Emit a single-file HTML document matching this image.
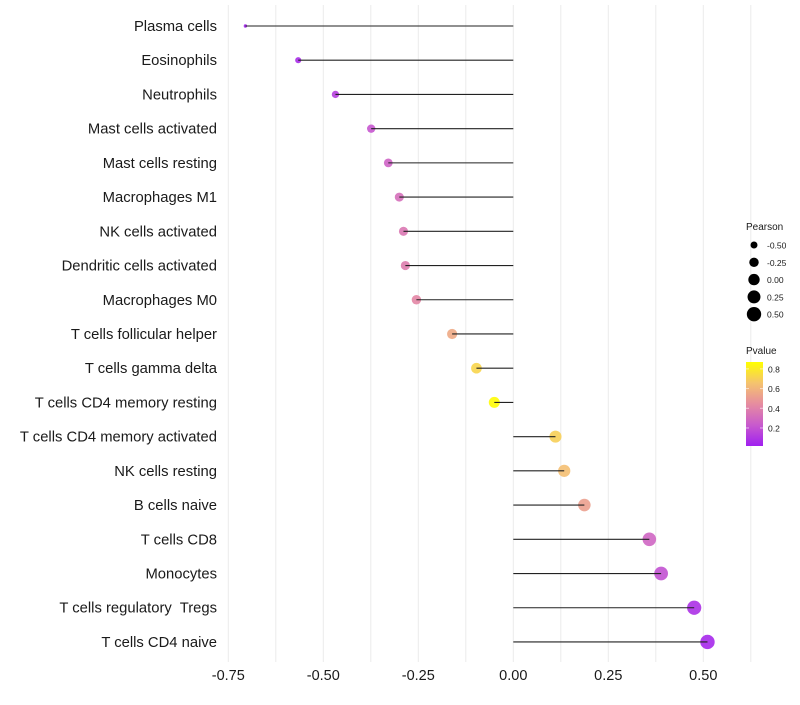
<!DOCTYPE html>
<html><head><meta charset="utf-8"><style>
body{margin:0;background:#fff;font-family:"Liberation Sans",sans-serif}
</style></head><body>
<svg id="chart" width="800" height="700" xmlns="http://www.w3.org/2000/svg">
<g id="grid"></g>
<g id="marks"></g>
<g id="ylab"></g>
<g id="xlab"></g>
<g id="legend"></g>
</svg>
<script>
const categories=["Plasma cells","Eosinophils","Neutrophils","Mast cells activated","Mast cells resting","Macrophages M1","NK cells activated","Dendritic cells activated","Macrophages M0","T cells follicular helper","T cells gamma delta","T cells CD4 memory resting","T cells CD4 memory activated","NK cells resting","B cells naive","T cells CD8","Monocytes","T cells regulatory  Tregs","T cells CD4 naive"];
const pearson=[-0.705,-0.566,-0.468,-0.374,-0.329,-0.300,-0.289,-0.284,-0.255,-0.161,-0.097,-0.050,0.111,0.134,0.187,0.358,0.389,0.476,0.511];
const pvalue=[0.03,0.06,0.13,0.22,0.27,0.32,0.36,0.38,0.42,0.56,0.72,0.86,0.70,0.64,0.52,0.28,0.20,0.08,0.05];
const xTicks=[-0.75,-0.5,-0.25,0,0.25,0.5];
const xTickLabels=["-0.75","-0.50","-0.25","0.00","0.25","0.50"];
const sizeLegend=[-0.5,-0.25,0,0.25,0.5];
const sizeLegendLabels=["-0.50","-0.25","0.00","0.25","0.50"];
const pTicks=[0.2,0.4,0.6,0.8];

const NS="http://www.w3.org/2000/svg";
const x=v=>513.3+v*380;
const y=i=>26+i*34.22;
const pMinV=Math.min(...pearson),pMaxV=Math.max(...pearson);
const rad=v=>{let t=(v-pMinV)/(pMaxV-pMinV);t=Math.max(0,Math.min(1,t));return 0.6+1.1*Math.sqrt(1+35*t);};
const pMin=0.017,pMax=0.87;
const stops=[[0,[160,32,240]],[0.25,[200,90,205]],[0.5,[230,140,160]],[0.75,[245,195,110]],[1,[255,255,0]]];
function col(p){let t=(p-pMin)/(pMax-pMin);t=Math.max(0,Math.min(1,t));
 for(let k=1;k<stops.length;k++){if(t<=stops[k][0]){const a=stops[k-1],b=stops[k];const f=(t-a[0])/(b[0]-a[0]);
 return "rgb("+a[1].map((c,j)=>Math.round(c+(b[1][j]-c)*f)).join(",")+")";}}return "rgb(255,255,0)";}
function el(tag,attrs,parent){const e=document.createElementNS(NS,tag);for(const k in attrs)e.setAttribute(k,attrs[k]);parent.appendChild(e);return e;}
const G=document.getElementById("grid"),M=document.getElementById("marks"),YL=document.getElementById("ylab"),XL=document.getElementById("xlab"),L=document.getElementById("legend");
for(let v=-0.75;v<=0.626;v+=0.125){const g=el("line",{x1:x(v),x2:x(v),y1:5,y2:662,stroke:"#ebebeb","stroke-width":1},G);

}
xTicks.forEach((v,i)=>{const t=el("text",{x:x(v),y:680,"text-anchor":"middle","font-size":14.5,fill:"#1a1a1a"},XL);t.textContent=xTickLabels[i];

});
categories.forEach((c,i)=>{
 const t=el("text",{x:217,y:y(i)+5,"text-anchor":"end","font-size":14.8,fill:"#1a1a1a","xml:space":"preserve"},YL);t.textContent=c;
 t.style.whiteSpace="pre";
 
 
 const d=el("circle",{cx:x(pearson[i]),cy:y(i),r:rad(pearson[i]),fill:col(pvalue[i]),"fill-opacity":0.9},M);
 
 
 const s=el("line",{x1:x(0),x2:x(pearson[i]),y1:y(i),y2:y(i),stroke:"#222","stroke-width":1.1},M);
 
 
});
let t=el("text",{x:746,y:230,"font-size":10,fill:"#1a1a1a"},L);t.textContent="Pearson";


sizeLegend.forEach((v,i)=>{const yy=245+i*17.3;
 const c=el("circle",{cx:754,cy:yy,r:rad(v),fill:"#000"},L);
 
 
 const tt=el("text",{x:767,y:yy+3.5,"font-size":8.5,fill:"#1a1a1a"},L);tt.textContent=sizeLegendLabels[i];
 
 });
t=el("text",{x:746,y:354,"font-size":10,fill:"#1a1a1a"},L);t.textContent="Pvalue";


const defs=el("defs",{},L);const lg=el("linearGradient",{id:"pg",x1:0,y1:1,x2:0,y2:0},defs);
stops.forEach(s=>el("stop",{offset:s[0],"stop-color":"rgb("+s[1].join(",")+")"},lg));
const bar=el("rect",{x:746,y:362,width:17,height:84,fill:"url(#pg)"},L);


const py=p=>446-(p-pMin)/(pMax-pMin)*84;
pTicks.forEach(p=>{el("line",{x1:746,x2:749,y1:py(p),y2:py(p),stroke:"#fff","stroke-opacity":0.6},L);el("line",{x1:760,x2:763,y1:py(p),y2:py(p),stroke:"#fff","stroke-opacity":0.6},L);
 const tt=el("text",{x:768,y:py(p)+3.5,"font-size":8.5,fill:"#1a1a1a"},L);tt.textContent=p.toFixed(1);
 
 });
</script>
</body></html>
